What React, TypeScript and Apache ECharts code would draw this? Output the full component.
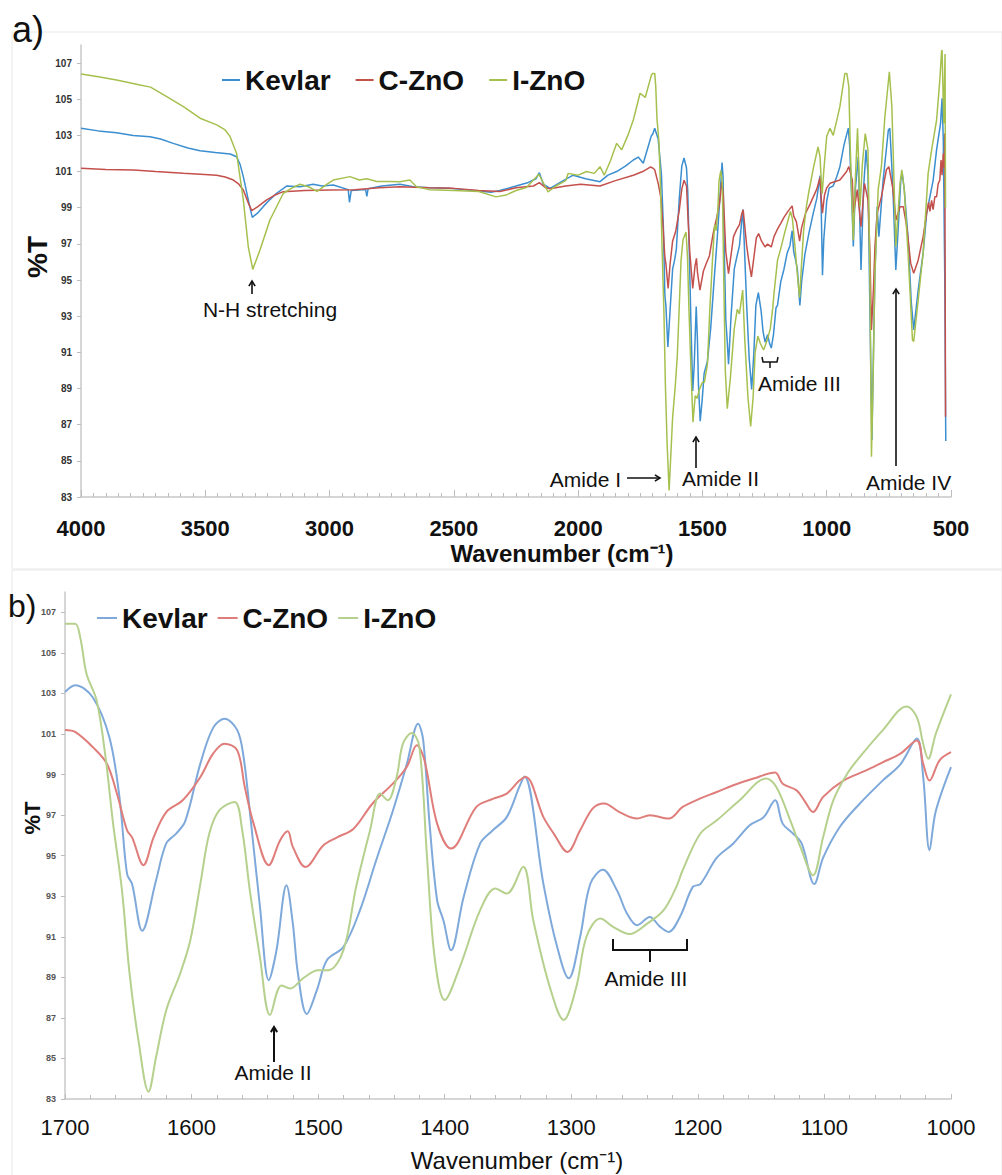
import React, { useEffect, useRef } from "react";
import * as echarts from "echarts";

const seriesNames = ["Kevlar", "C-ZnO", "I-ZnO"];
const yTickValues = [83, 85, 87, 89, 91, 93, 95, 97, 99, 101, 103, 105, 107];

// ---- Kevlar ----
const kevlarHigh: [number, number][] = [
  [4000, 103.39], [3930, 103.25], [3857, 103.15], [3790, 103.0], [3722, 102.93], [3680, 102.8],
  [3629, 102.56], [3570, 102.3], [3521, 102.15], [3460, 102.05], [3400, 101.97], [3374, 101.82],
  [3360, 101.4], [3347, 100.72], [3327, 99.43], [3311, 98.47], [3290, 98.7], [3267, 99.06],
  [3240, 99.45], [3213, 99.8], [3173, 100.2], [3119, 100.16], [3066, 100.3], [3030, 100.2],
  [2985, 100.26], [2925, 100.0], [2920, 99.3], [2913, 99.95], [2870, 100.0], [2855, 100.0],
  [2850, 99.63], [2845, 100.05], [2790, 100.2], [2717, 100.3], [2663, 100.16], [2600, 100.1],
  [2516, 100.07], [2420, 99.95], [2350, 99.85], [2315, 99.95], [2250, 100.2], [2200, 100.4],
  [2170, 100.6], [2156, 100.94], [2140, 100.3], [2113, 100.07], [2060, 100.5], [2020, 100.8],
  [1970, 100.6], [1912, 100.44], [1880, 100.8], [1845, 101.0], [1810, 101.3], [1778, 101.64],
  [1758, 101.8], [1738, 101.46], [1720, 102.3], [1705, 103.0],
];
const kevlarFinger: [number, number][] = [
  [1700, 103.06], [1692, 103.4], [1678, 102.8], [1665, 100.85], [1657, 97.9], [1651, 94.1],
  [1647, 93.6], [1639, 91.3], [1628, 93.8], [1620, 95.6], [1612, 96.1], [1605, 96.7],
  [1593, 99.55], [1583, 101.3], [1574, 101.75], [1564, 101.2], [1559, 99.9], [1553, 96.6],
  [1546, 92.5], [1539, 88.86], [1533, 90.3], [1525, 93.54], [1520, 91.65], [1516, 89.2],
  [1509, 87.19], [1501, 88.37], [1493, 89.85], [1480, 90.5], [1467, 92.3], [1454, 94.8],
  [1441, 97.2], [1430, 99.5], [1421, 101.5], [1417, 100.7], [1412, 96.6], [1406, 92.8],
  [1401, 91.8], [1395, 90.34], [1385, 92.97], [1372, 95.6], [1362, 96.25], [1351, 96.9],
  [1341, 98.4], [1337, 98.9], [1322, 93.6], [1312, 90.7], [1302, 88.95], [1293, 91.0],
  [1285, 93.6], [1275, 94.3], [1264, 93.3], [1256, 92.15], [1248, 91.57], [1238, 91.98],
  [1230, 91.5], [1223, 91.24], [1214, 92.0], [1204, 93.46], [1198, 93.6], [1185, 94.9],
  [1172, 95.6], [1159, 96.5], [1148, 96.9], [1139, 97.73], [1133, 96.58], [1125, 96.1],
  [1118, 95.6], [1108, 93.6], [1101, 94.9], [1088, 96.4], [1072, 97.57], [1054, 98.7],
  [1040, 99.5], [1027, 100.77], [1022, 98.9], [1017, 95.27], [1012, 97.2], [1000, 99.37],
];
const kevlarLow: [number, number][] = [
  [990, 100.1], [974, 100.2], [960, 100.7], [947, 101.27], [930, 102.5], [913, 103.4],
  [908, 102.5], [898, 99.0], [893, 96.85], [885, 100.0], [873, 101.82], [862, 95.56],
  [852, 100.0], [842, 102.2], [834, 100.9], [826, 93.0], [818, 86.15], [812, 91.0],
  [806, 95.37], [797, 99.05], [790, 97.4], [773, 100.53], [752, 103.3], [746, 103.4],
  [739, 101.5], [732, 99.43], [722, 95.56], [712, 97.95], [702, 100.53], [696, 100.9],
  [688, 100.0], [672, 97.2], [660, 93.8], [650, 92.24], [632, 94.45], [612, 96.5],
  [598, 98.69], [585, 99.6], [572, 100.5], [558, 102.2], [542, 103.67], [536, 105.05],
  [531, 102.75], [525, 95.0], [521, 86.1],
];

// ---- C-ZnO ----
const cznoHigh: [number, number][] = [
  [4000, 101.18], [3900, 101.12], [3789, 101.09], [3700, 101.0], [3588, 100.9], [3520, 100.85],
  [3454, 100.8], [3420, 100.7], [3387, 100.53], [3365, 100.3], [3347, 99.98], [3325, 99.2],
  [3313, 98.84], [3290, 99.05], [3253, 99.43], [3220, 99.7], [3186, 99.89], [3100, 99.95],
  [3000, 99.98], [2900, 100.0], [2800, 100.1], [2717, 100.16], [2600, 100.1], [2500, 100.07],
  [2400, 99.95], [2315, 99.9], [2250, 100.1], [2180, 100.2], [2156, 100.39], [2130, 100.1],
  [2113, 100.05], [2050, 100.2], [1990, 100.3], [1912, 100.2], [1850, 100.5], [1778, 100.8],
  [1740, 101.0], [1710, 101.25],
];
const cznoFinger: [number, number][] = [
  [1700, 101.2], [1692, 101.1], [1678, 100.35], [1667, 99.54], [1659, 98.06], [1651, 96.25],
  [1647, 95.9], [1638, 94.53], [1630, 95.9], [1620, 97.15], [1607, 97.73], [1593, 98.88],
  [1583, 100.03], [1574, 100.52], [1564, 100.2], [1558, 98.4], [1551, 96.58], [1539, 94.53],
  [1530, 95.76], [1524, 96.2], [1520, 95.43], [1510, 94.44], [1496, 95.5], [1485, 95.9],
  [1472, 96.33], [1457, 97.57], [1441, 98.55], [1430, 99.37], [1422, 100.44], [1416, 99.7],
  [1406, 96.58], [1395, 95.35], [1375, 97.4], [1362, 97.8], [1351, 98.06], [1341, 98.7],
  [1336, 98.88], [1322, 96.9], [1314, 96.1], [1303, 95.18], [1293, 96.25], [1283, 97.33],
  [1274, 97.57], [1262, 97.15], [1248, 96.83], [1238, 96.99], [1223, 96.83], [1212, 97.4],
  [1198, 97.82], [1185, 98.14], [1172, 98.47], [1156, 98.8], [1139, 99.1], [1133, 98.55],
  [1122, 98.22], [1116, 97.73], [1109, 97.15], [1101, 97.9], [1085, 98.7], [1067, 99.2],
  [1054, 99.6], [1040, 100.03], [1027, 100.68], [1022, 99.54], [1017, 98.7], [1009, 99.7],
  [1000, 100.1],
];
const cznoLow: [number, number][] = [
  [987, 100.35], [947, 100.53], [920, 101.0], [911, 101.27], [897, 100.53], [892, 98.69],
  [877, 100.0], [862, 97.95], [848, 100.35], [834, 99.43], [826, 96.5], [820, 92.24],
  [812, 94.5], [806, 96.85], [797, 98.69], [780, 99.6], [760, 101.1], [750, 101.27],
  [735, 100.16], [721, 98.32], [705, 99.06], [692, 99.06], [678, 97.95], [662, 95.92],
  [650, 95.37], [632, 96.1], [612, 97.4], [598, 98.7], [590, 99.3], [585, 98.8],
  [578, 99.4], [572, 98.9], [565, 99.6], [558, 99.6], [552, 100.3], [545, 100.53],
  [540, 101.64], [536, 100.8], [531, 102.0], [527, 101.2], [525, 103.1], [522, 87.44],
];

// ---- I-ZnO ----
const iznoHigh: [number, number][] = [
  [4000, 106.4], [3930, 106.25], [3857, 106.06], [3800, 105.9], [3763, 105.79], [3720, 105.67],
  [3655, 105.14], [3588, 104.59], [3521, 103.95], [3454, 103.58], [3420, 103.3], [3400, 102.93],
  [3374, 102.0], [3347, 99.43], [3327, 96.84], [3309, 95.59], [3280, 96.66], [3240, 98.32],
  [3186, 99.8], [3150, 100.1], [3119, 100.3], [3085, 100.16], [3050, 99.9], [3010, 100.3],
  [2985, 100.53], [2918, 100.72], [2880, 100.53], [2850, 100.6], [2810, 100.45], [2760, 100.45],
  [2717, 100.44], [2677, 100.53], [2650, 100.16], [2600, 100.0], [2500, 99.95], [2400, 99.9],
  [2330, 99.6], [2290, 99.7], [2250, 99.95], [2208, 100.12], [2158, 100.85], [2121, 99.87],
  [2090, 100.2], [2050, 100.5], [2040, 100.9], [2000, 100.8], [1966, 101.0], [1935, 100.9],
  [1912, 101.27], [1895, 100.8], [1870, 101.6], [1845, 102.56], [1825, 102.2], [1800, 103.0],
  [1778, 103.85], [1751, 105.33], [1730, 105.1], [1712, 106.0], [1705, 106.34],
];
const iznoFinger: [number, number][] = [
  [1700, 106.43], [1692, 106.43], [1688, 105.77], [1683, 103.97], [1675, 102.65], [1668, 99.87],
  [1662, 96.58], [1655, 93.3], [1649, 89.19], [1642, 85.9], [1634, 83.36], [1628, 85.08],
  [1620, 87.38], [1609, 89.19], [1601, 90.83], [1593, 93.63], [1586, 96.09], [1578, 97.24],
  [1566, 97.65], [1560, 96.25], [1554, 93.3], [1546, 90.0], [1538, 87.14], [1529, 88.6],
  [1522, 88.45], [1512, 88.95], [1500, 89.35], [1492, 89.35], [1480, 90.34], [1470, 93.46],
  [1459, 96.25], [1451, 98.06], [1445, 97.73], [1438, 98.88], [1433, 100.52], [1426, 101.05],
  [1420, 100.36], [1414, 94.94], [1408, 90.0], [1400, 87.88], [1388, 89.52], [1372, 92.31],
  [1360, 93.38], [1351, 93.13], [1338, 94.45], [1330, 91.8], [1317, 88.53], [1306, 86.9],
  [1296, 88.53], [1288, 91.0], [1277, 91.9], [1267, 91.49], [1254, 91.13], [1240, 91.65],
  [1227, 92.31], [1217, 93.46], [1212, 94.28], [1198, 96.09], [1185, 96.74], [1167, 97.73],
  [1146, 98.8], [1138, 98.39], [1127, 96.74], [1119, 95.43], [1109, 94.03], [1101, 95.92],
  [1093, 97.73], [1082, 99.04], [1072, 99.87], [1054, 101.18], [1035, 102.36], [1027, 101.83],
  [1022, 100.52], [1018, 99.78], [1012, 101.01], [1000, 102.95],
];
const iznoLow: [number, number][] = [
  [987, 103.4], [974, 103.0], [960, 103.8], [947, 104.59], [927, 106.43], [919, 106.43],
  [911, 105.7], [905, 102.2], [893, 97.2], [885, 100.5], [876, 103.4], [866, 99.06],
  [856, 101.5], [845, 103.1], [834, 102.2], [826, 95.0], [820, 85.23], [812, 90.5],
  [806, 95.37], [793, 100.0], [780, 101.27], [766, 104.03], [748, 106.52], [738, 104.6],
  [729, 100.35], [722, 96.85], [705, 100.35], [698, 101.1], [688, 100.0], [672, 96.3],
  [655, 91.68], [650, 91.6], [632, 93.9], [612, 96.5], [592, 100.9], [578, 102.2],
  [558, 103.85], [545, 106.06], [538, 107.63], [536, 107.72], [529, 103.67], [524, 107.5],
  [522, 99.0],
];

const topColors = ["#3b8ed0", "#c4504c", "#a6c04e"];
const bottomColors = ["#7ea9da", "#df7d7a", "#b6d08d"];

const panelA = [
  [...kevlarHigh, ...kevlarFinger, ...kevlarLow],
  [...cznoHigh, ...cznoFinger, ...cznoLow],
  [...iznoHigh, ...iznoFinger, ...iznoLow],
];
const panelB = [kevlarFinger, cznoFinger, iznoFinger];

const FONT = "'Liberation Sans', Arial, sans-serif";
const INK = "#111";

function arrow(x1: number, y1: number, x2: number, y2: number, w = 1.6) {
  const ang = Math.atan2(y2 - y1, x2 - x1);
  const L = 6;
  const a1 = ang + Math.PI - 0.55;
  const a2 = ang + Math.PI + 0.55;
  return [
    { type: "line", shape: { x1, y1, x2, y2 }, style: { stroke: INK, lineWidth: w } },
    {
      type: "polyline",
      shape: {
        points: [
          [x2 + L * Math.cos(a1), y2 + L * Math.sin(a1)],
          [x2, y2],
          [x2 + L * Math.cos(a2), y2 + L * Math.sin(a2)],
        ],
      },
      style: { stroke: INK, lineWidth: w, fill: "none" },
    },
  ];
}

function label(text: string, x: number, y: number, size: number, opts: any = {}) {
  const align = opts.align || "left";
  return {
    type: "text",
    x,
    y,
    rotation: opts.rotation || 0,
    style: {
      text,
      fontSize: size,
      fontWeight: opts.bold ? "bold" : "normal",
      fontFamily: FONT,
      fill: INK,
      align,
      textAlign: align,
      verticalAlign: "middle",
      textVerticalAlign: "middle",
    },
  };
}

const plainNumber = (v: number) => String(v);

export default function App() {
  const ref = useRef<HTMLDivElement>(null);
  useEffect(() => {
    const chart = echarts.init(ref.current!, null, { renderer: "svg" });

    const axisLineStyle = { color: "#c8c8c8", width: 1.5 };
    const tickStyle = { color: "#bdbdbd", width: 1 };

    const series: any[] = [];
    seriesNames.forEach((name, i) => {
      series.push({
        name,
        type: "line",
        xAxisIndex: 0,
        yAxisIndex: 0,
        data: panelA[i],
        symbol: "none",
        showSymbol: false,
        lineStyle: { color: topColors[i], width: 1.5 },
        itemStyle: { color: topColors[i] },
        z: 2 + i,
      });
    });
    seriesNames.forEach((name, i) => {
      series.push({
        name,
        type: "line",
        xAxisIndex: 1,
        yAxisIndex: 1,
        data: panelB[i],
        symbol: "none",
        showSymbol: false,
        smooth: 0.35,
        lineStyle: { color: bottomColors[i], width: 2 },
        itemStyle: { color: bottomColors[i] },
        z: 2 + i,
      });
    });

    const graphic: any[] = [
      { type: "rect", shape: { x: 12, y: 32, width: 990, height: 537 }, style: { fill: "none", stroke: "#e9e9e9", lineWidth: 1 }, z: -1 },
      { type: "rect", shape: { x: 12, y: 570, width: 990, height: 610 }, style: { fill: "none", stroke: "#e9e9e9", lineWidth: 1 }, z: -1 },
      label("a)", 12, 29, 36),
      label("b)", 8, 606, 32),
      label("%T", 37, 257, 28, { bold: true, align: "center", rotation: Math.PI / 2 }),
      label("%T", 32, 818, 22, { bold: true, align: "center", rotation: Math.PI / 2 }),
      label("Wavenumber (cm⁻¹)", 562, 553, 24, { bold: true, align: "center" }),
      label("Wavenumber (cm⁻¹)", 517, 1160, 24, { align: "center" }),
      // panel a annotations
      ...arrow(252, 294, 252, 281),
      label("N-H stretching", 270, 309, 21, { align: "center" }),
      label("Amide I", 621, 479, 21, { align: "right" }),
      ...arrow(627, 478, 660, 478),
      label("Amide II", 682, 478, 21),
      ...arrow(696, 468, 696, 437),
      label("Amide III", 758, 383, 21),
      {
        type: "polyline",
        shape: { points: [[762, 357], [763, 362], [777, 362], [778, 357]] },
        style: { stroke: INK, lineWidth: 1.5, fill: "none" },
      },
      { type: "line", shape: { x1: 770, y1: 362, x2: 770, y2: 368 }, style: { stroke: INK, lineWidth: 1.5 } },
      label("Amide IV", 866, 482, 21),
      ...arrow(896, 466, 896, 289),
      // panel b annotations
      ...arrow(274, 1062, 274, 1027, 2),
      label("Amide II", 273, 1072, 21, { align: "center" }),
      {
        type: "polyline",
        shape: { points: [[613, 939], [613, 950], [687, 950], [687, 939]] },
        style: { stroke: INK, lineWidth: 2, fill: "none" },
      },
      { type: "line", shape: { x1: 650, y1: 950, x2: 650, y2: 962 }, style: { stroke: INK, lineWidth: 2 } },
      label("Amide III", 646, 978, 21, { align: "center" }),
    ];

    const legendBase = {
      orient: "horizontal",
      icon: "rect",
      itemHeight: 2,
      padding: 0,
      selectedMode: false,
      textStyle: { fontSize: 28, fontWeight: "bold", color: INK, fontFamily: FONT },
    };

    chart.setOption({
      animation: false,
      backgroundColor: "#ffffff",
      textStyle: { fontFamily: FONT },
      legend: [
        {
          ...legendBase,
          left: 222,
          top: 66,
          itemWidth: 18,
          itemGap: 25,
          data: seriesNames.map((n, i) => ({ name: n, itemStyle: { color: topColors[i] }, lineStyle: { color: topColors[i] } })),
        },
        {
          ...legendBase,
          left: 97,
          top: 604,
          itemWidth: 20,
          itemGap: 10,
          data: seriesNames.map((n, i) => ({ name: n, itemStyle: { color: bottomColors[i] }, lineStyle: { color: bottomColors[i] } })),
        },
      ],
      grid: [
        { left: 81, top: 45, width: 870, height: 452 },
        { left: 65, top: 592, width: 886, height: 507 },
      ],
      xAxis: [
        {
          gridIndex: 0,
          type: "value",
          inverse: true,
          min: 500,
          max: 4000,
          interval: 500,
          axisLine: { lineStyle: axisLineStyle },
          axisTick: { inside: true, length: 7, lineStyle: tickStyle },
          minorTick: { show: true, splitNumber: 10, length: 4, lineStyle: tickStyle },
          axisLabel: { fontSize: 22, fontWeight: "bold", color: INK, margin: 20, fontFamily: FONT, formatter: plainNumber },
          splitLine: { show: false },
          minorSplitLine: { show: false },
        },
        {
          gridIndex: 1,
          type: "value",
          inverse: true,
          min: 1000,
          max: 1700,
          interval: 100,
          axisLine: { lineStyle: axisLineStyle },
          axisTick: { inside: true, length: 5, lineStyle: tickStyle },
          minorTick: { show: true, splitNumber: 5, length: 4, lineStyle: tickStyle },
          axisLabel: { fontSize: 22, color: INK, margin: 17, fontFamily: FONT, formatter: plainNumber },
          splitLine: { show: false },
          minorSplitLine: { show: false },
        },
      ],
      yAxis: [
        {
          gridIndex: 0,
          type: "value",
          min: 83,
          max: 108,
          axisLine: { show: true, lineStyle: axisLineStyle },
          axisTick: { show: true, length: 4, customValues: yTickValues, lineStyle: tickStyle },
          axisLabel: { customValues: yTickValues, fontSize: 10, fontWeight: "bold", color: "#333", margin: 9, fontFamily: FONT },
          splitLine: { show: false },
        },
        {
          gridIndex: 1,
          type: "value",
          min: 83,
          max: 108,
          axisLine: { show: true, lineStyle: axisLineStyle },
          axisTick: { show: true, length: 4, customValues: yTickValues, lineStyle: tickStyle },
          axisLabel: { customValues: yTickValues, fontSize: 9, fontWeight: "bold", color: "#555", margin: 9, fontFamily: FONT },
          splitLine: { show: false },
        },
      ],
      series,
      graphic,
    });
    return () => chart.dispose();
  }, []);
  return (
    <div
      ref={ref}
      style={{ position: "absolute", left: 0, top: 0, width: 1002, height: 1175, background: "#fff" }}
    />
  );
}
